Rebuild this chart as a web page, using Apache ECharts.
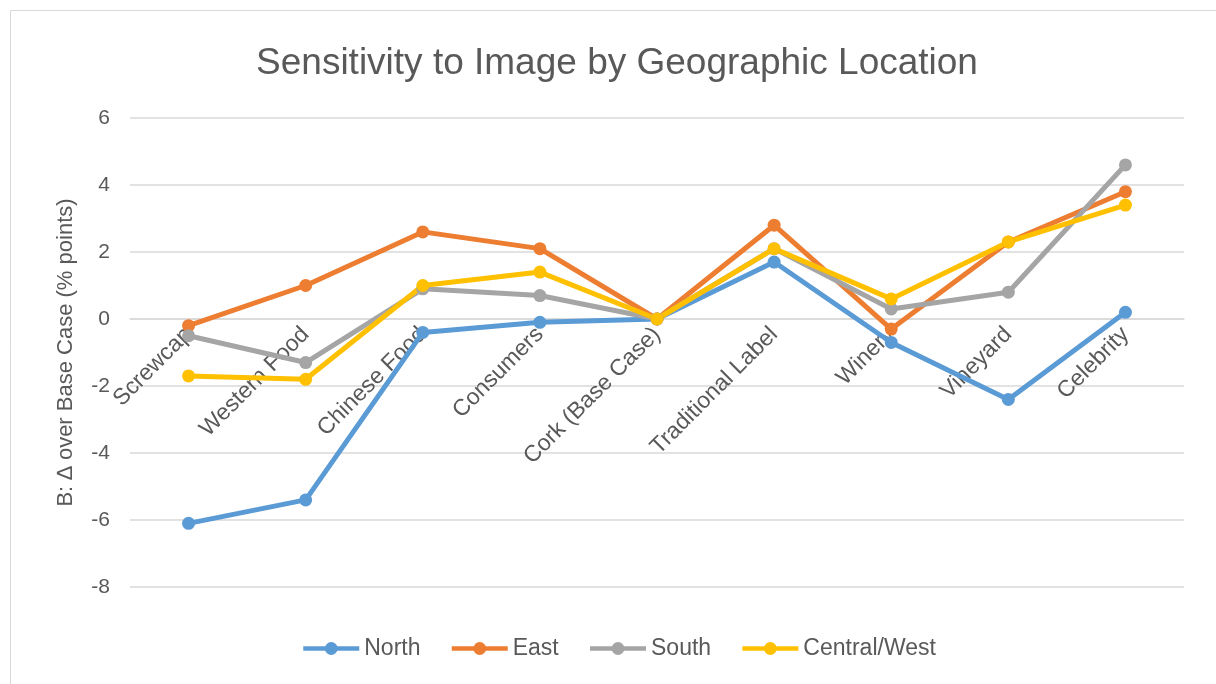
<!DOCTYPE html>
<html>
<head>
<meta charset="utf-8">
<script src="https://cdn.jsdelivr.net/npm/echarts@6/dist/echarts.min.js"></script>
<style>
  html, body { margin: 0; padding: 0; background: #fff; }
  #chart { width: 1216px; height: 684px; }
</style>
</head>
<body>
<div id="chart"></div>
<script>
var categories = ['Screwcap', 'Western Food', 'Chinese Food', 'Consumers', 'Cork (Base Case)',
    'Traditional Label', 'Winery', 'Vineyard', 'Celebrity'];
var north = [-6.1, -5.4, -0.4, -0.1, 0, 1.7, -0.7, -2.4, 0.2];
var east = [-0.2, 1.0, 2.6, 2.1, 0, 2.8, -0.3, 2.3, 3.8];
var south = [-0.5, -1.3, 0.9, 0.7, 0, 2.1, 0.3, 0.8, 4.6];
var centralWest = [-1.7, -1.8, 1.0, 1.4, 0, 2.1, 0.6, 2.3, 3.4];
var yTicks = [-8, 6, 2];  // min, max, interval

var font = 'Liberation Sans, Arial, sans-serif';
var gridTop = 118, gridBottom = 97;
// category axis crosses at y = 0, so push it up from the bottom edge
var plotH = 684 - gridTop - gridBottom;
var zeroOffset = -plotH * (0 - yTicks[0]) / (yTicks[1] - yTicks[0]);

function line(name, data, color) {
    return {
        name: name,
        type: 'line',
        data: data,
        symbol: 'circle',
        symbolSize: 13,
        lineStyle: { width: 5, color: color },
        itemStyle: { color: color },
        emphasis: { disabled: true }
    };
}

var chart = echarts.init(document.getElementById('chart'));
chart.setOption({
    animation: false,
    title: {
        text: 'Sensitivity to Image by Geographic Location',
        top: 40,
        left: 612,
        textAlign: 'center',
        textStyle: { fontFamily: font, fontSize: 37, fontWeight: 'normal', color: '#595959' }
    },
    graphic: [{
        type: 'rect',
        shape: { x: 10.5, y: 10.5, width: 1220, height: 690 },
        style: { fill: 'none', stroke: '#d9d9d9', lineWidth: 1 },
        silent: true
    }],
    legend: {
        top: 632,
        left: 296,
        itemWidth: 56,
        itemHeight: 16,
        itemGap: 29,
        lineStyle: { width: 4.5 },
        textStyle: { fontFamily: font, fontSize: 23, color: '#595959' },
        data: ['North', 'East', 'South', 'Central/West']
    },
    grid: { left: 130, right: 32, top: gridTop, bottom: gridBottom, outerBoundsMode: 'none' },
    xAxis: {
        type: 'category',
        data: categories,
        offset: zeroOffset,
        axisLine: { onZero: false, lineStyle: { color: '#d9d9d9', width: 1.5 } },
        axisTick: { show: false },
        axisLabel: {
            rotate: 45,
            interval: 0,
            margin: 12,
            fontFamily: font,
            fontSize: 23,
            color: '#595959'
        }
    },
    yAxis: {
        type: 'value',
        min: yTicks[0],
        max: yTicks[1],
        interval: yTicks[2],
        name: 'B: \u2206 over Base Case (% points)',
        nameLocation: 'middle',
        nameGap: 53,
        nameMoveOverlap: false,
        nameTextStyle: { fontFamily: font, fontSize: 22, color: '#595959' },
        axisLine: { show: false },
        axisTick: { show: false },
        axisLabel: { fontFamily: font, fontSize: 21, color: '#595959', margin: 20 },
        splitLine: { lineStyle: { color: '#d9d9d9', width: 1.5 } }
    },
    series: [
        line('North', north, '#5B9BD5'),
        line('East', east, '#ED7D31'),
        line('South', south, '#A5A5A5'),
        line('Central/West', centralWest, '#FFC000')
    ]
});
</script>
</body>
</html>
